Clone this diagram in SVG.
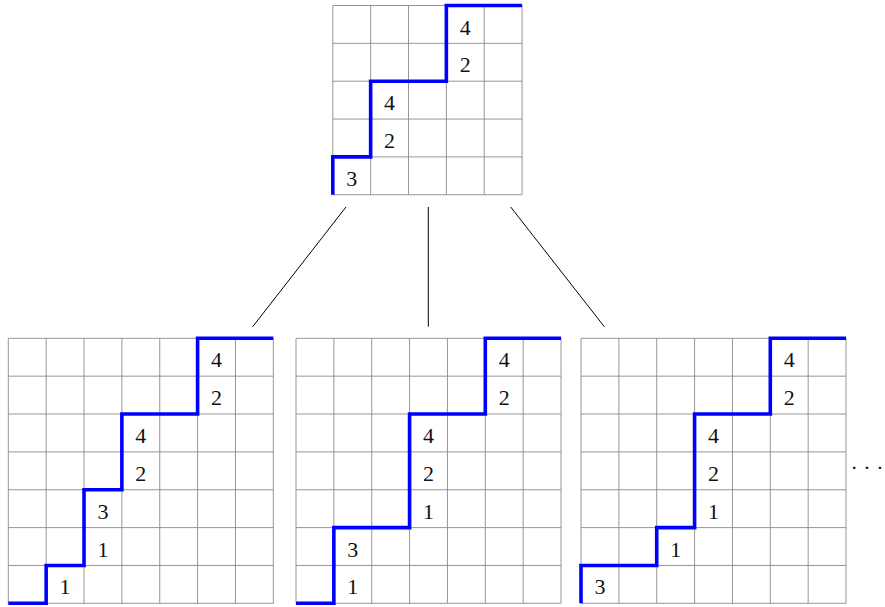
<svg xmlns="http://www.w3.org/2000/svg" xmlns:xlink="http://www.w3.org/1999/xlink" width="885" height="607" viewBox="0 0 885 607">
<style>
.grid{fill:none;stroke:#8a8a8a;stroke-width:0.9}
.path{fill:none;stroke:#0000ff;stroke-width:3.6;stroke-linejoin:miter;stroke-linecap:butt}
.num{font-family:"Liberation Serif","DejaVu Serif",serif;font-size:22px;fill:#111;text-anchor:middle}
.conn{stroke:#000;stroke-width:1;fill:none}
</style>
<defs>
<path id="g5" d="M0 0V189.25M37.85 0V189.25M75.7 0V189.25M113.55 0V189.25M151.4 0V189.25M189.25 0V189.25M0 0H189.25M0 37.85H189.25M0 75.7H189.25M0 113.55H189.25M0 151.4H189.25M0 189.25H189.25"/>
<path id="g7" d="M0 0V265.02M37.86 0V265.02M75.72 0V265.02M113.58 0V265.02M151.44 0V265.02M189.3 0V265.02M227.16 0V265.02M265.02 0V265.02M0 0H265.02M0 37.86H265.02M0 75.72H265.02M0 113.58H265.02M0 151.44H265.02M0 189.3H265.02M0 227.16H265.02M0 265.02H265.02"/>
</defs>
<rect width="885" height="607" fill="#fff"/>
<g id="connectors">
<line class="conn" x1="346" y1="207" x2="252.7" y2="326.7"/>
<line class="conn" x1="428.3" y1="207" x2="428.3" y2="326.7"/>
<line class="conn" x1="510.7" y1="207" x2="604.3" y2="326.7"/>
</g>
<g id="top" transform="translate(332.8,5.5)">
<use xlink:href="#g5" class="grid"/>
<path class="path" d="M0 189.25V151.4H37.85V75.7H113.55V0H189.25"/>
<text class="num" x="132.475" y="29">4</text>
<text class="num" x="132.475" y="66.85">2</text>
<text class="num" x="56.775" y="104.7">4</text>
<text class="num" x="56.775" y="142.55">2</text>
<text class="num" x="18.925" y="180.4">3</text>
</g>
<g id="left" transform="translate(8.3,338.3)">
<use xlink:href="#g7" class="grid"/>
<path class="path" d="M0 265.02H37.86V227.16H75.72V151.44H113.58V75.72H189.3V0H265.02"/>
<text class="num" x="208.23" y="29">4</text>
<text class="num" x="208.23" y="66.86">2</text>
<text class="num" x="132.51" y="104.72">4</text>
<text class="num" x="132.51" y="142.58">2</text>
<text class="num" x="94.65" y="180.44">3</text>
<text class="num" x="94.65" y="218.3">1</text>
<text class="num" x="56.79" y="256.16">1</text>
</g>
<g id="middle" transform="translate(296,338.3)">
<use xlink:href="#g7" class="grid"/>
<path class="path" d="M0 265.02H37.86V189.3H113.58V75.72H189.3V0H265.02"/>
<text class="num" x="208.23" y="29">4</text>
<text class="num" x="208.23" y="66.86">2</text>
<text class="num" x="132.51" y="104.72">4</text>
<text class="num" x="132.51" y="142.58">2</text>
<text class="num" x="132.51" y="180.44">1</text>
<text class="num" x="56.79" y="218.3">3</text>
<text class="num" x="56.79" y="256.16">1</text>
</g>
<g id="right" transform="translate(581,338.3)">
<use xlink:href="#g7" class="grid"/>
<path class="path" d="M0 265.02V227.16H75.72V189.3H113.58V75.72H189.3V0H265.02"/>
<text class="num" x="208.23" y="29">4</text>
<text class="num" x="208.23" y="66.86">2</text>
<text class="num" x="132.51" y="104.72">4</text>
<text class="num" x="132.51" y="142.58">2</text>
<text class="num" x="132.51" y="180.44">1</text>
<text class="num" x="94.65" y="218.3">1</text>
<text class="num" x="18.93" y="256.16">3</text>
</g>
<g id="ellipsis">
<text class="num" x="867" y="475" font-size="21">· · ·</text>
</g>
</svg>
